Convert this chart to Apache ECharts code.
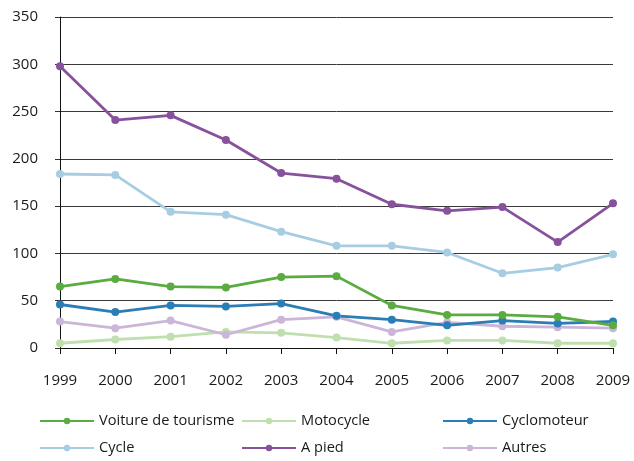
<!DOCTYPE html>
<html>
<head>
<meta charset="utf-8">
<script src="https://cdn.jsdelivr.net/npm/echarts@6/dist/echarts.min.js"></script>
<style>
  html, body { margin: 0; padding: 0; background: #fff; }
  #chart { width: 634px; height: 461px; }
</style>
</head>
<body>
<div id="chart"></div>
<script>
// Years on the x axis
const years = ['1999', '2000', '2001', '2002', '2003', '2004', '2005', '2006', '2007', '2008', '2009'];

// Series values per year
const voiture     = [65, 73, 65, 64, 75, 76, 45, 35, 35, 33, 24];
const motocycle   = [5, 9, 12, 17, 16, 11, 5, 8, 8, 5, 5];
const cyclomoteur = [46, 38, 45, 44, 47, 34, 30, 24, 29, 26, 28];
const cycle       = [184, 183, 144, 141, 123, 108, 108, 101, 79, 85, 99];
const aPied       = [298, 241, 246, 220, 185, 179, 152, 145, 149, 112, 153];
const autres      = [28, 21, 29, 14, 30, 33, 17, 27, 23, 22, 21];

// Value axis ticks
const yTicks = [0, 50, 100, 150, 200, 250, 300, 350];

const FONT = '"Open Sans", "Noto Sans", sans-serif';

const seriesDefs = [
  { name: 'Voiture de tourisme', data: voiture,     color: '#5aab40' },
  { name: 'Motocycle',           data: motocycle,   color: '#bfe0ae' },
  { name: 'Cyclomoteur',         data: cyclomoteur, color: '#2b7db6' },
  { name: 'Cycle',               data: cycle,       color: '#a7cde3' },
  { name: 'A pied',              data: aPied,       color: '#87519c' },
  { name: 'Autres',              data: autres,      color: '#cbb6d9' }
];

// Draw order: light lines first so darker ones sit on top
const drawOrder = ['Motocycle', 'Autres', 'Cycle', 'Cyclomoteur', 'Voiture de tourisme', 'A pied'];

const series = drawOrder.map(n => {
  const d = seriesDefs.find(s => s.name === n);
  return {
    name: d.name,
    type: 'line',
    data: d.data,
    symbol: 'circle',
    symbolSize: 8,
    showSymbol: true,
    animation: false,
    lineStyle: { color: d.color, width: 2.8 },
    itemStyle: { color: d.color },
    emphasis: { disabled: true }
  };
});

// One legend column per pair of entries
function legendCol(left, names) {
  return {
    orient: 'vertical',
    left: left,
    top: 411,
    width: 200,
    height: 60,
    padding: 0,
    itemWidth: 54,
    itemHeight: 8,
    itemGap: 7,
    selectedMode: false,
    data: names,
    textStyle: { fontFamily: FONT, fontSize: 14.6, color: '#1a1a1a', lineHeight: 20 }
  };
}

const chart = echarts.init(document.getElementById('chart'), null, { renderer: 'canvas' });
chart.setOption({
  backgroundColor: '#ffffff',
  animation: false,
  grid: { left: 60, right: 21, top: 17, bottom: 113, containLabel: false },
  xAxis: {
    type: 'category',
    data: years,
    boundaryGap: false,
    axisLine: { lineStyle: { color: '#111', width: 1 } },
    axisTick: { show: true, length: 6, lineStyle: { color: '#111' }, alignWithLabel: true },
    axisLabel: { margin: 25, fontFamily: FONT, fontSize: 15, color: '#1a1a1a' },
    splitLine: { show: false }
  },
  yAxis: {
    type: 'value',
    min: yTicks[0],
    max: yTicks[yTicks.length - 1],
    interval: yTicks[1] - yTicks[0],
    axisLine: { show: true, lineStyle: { color: '#111', width: 1 } },
    axisTick: { show: true, length: 5, lineStyle: { color: '#333' } },
    axisLabel: { margin: 22, fontFamily: FONT, fontSize: 15, color: '#1a1a1a' },
    splitLine: { show: true, lineStyle: { color: '#3a3a3a', width: 1 } }
  },
  legend: [
    legendCol(39,  ['Voiture de tourisme', 'Cycle']),
    legendCol(241, ['Motocycle', 'A pied']),
    legendCol(442, ['Cyclomoteur', 'Autres'])
  ],
  series: series
});
</script>
</body>
</html>
